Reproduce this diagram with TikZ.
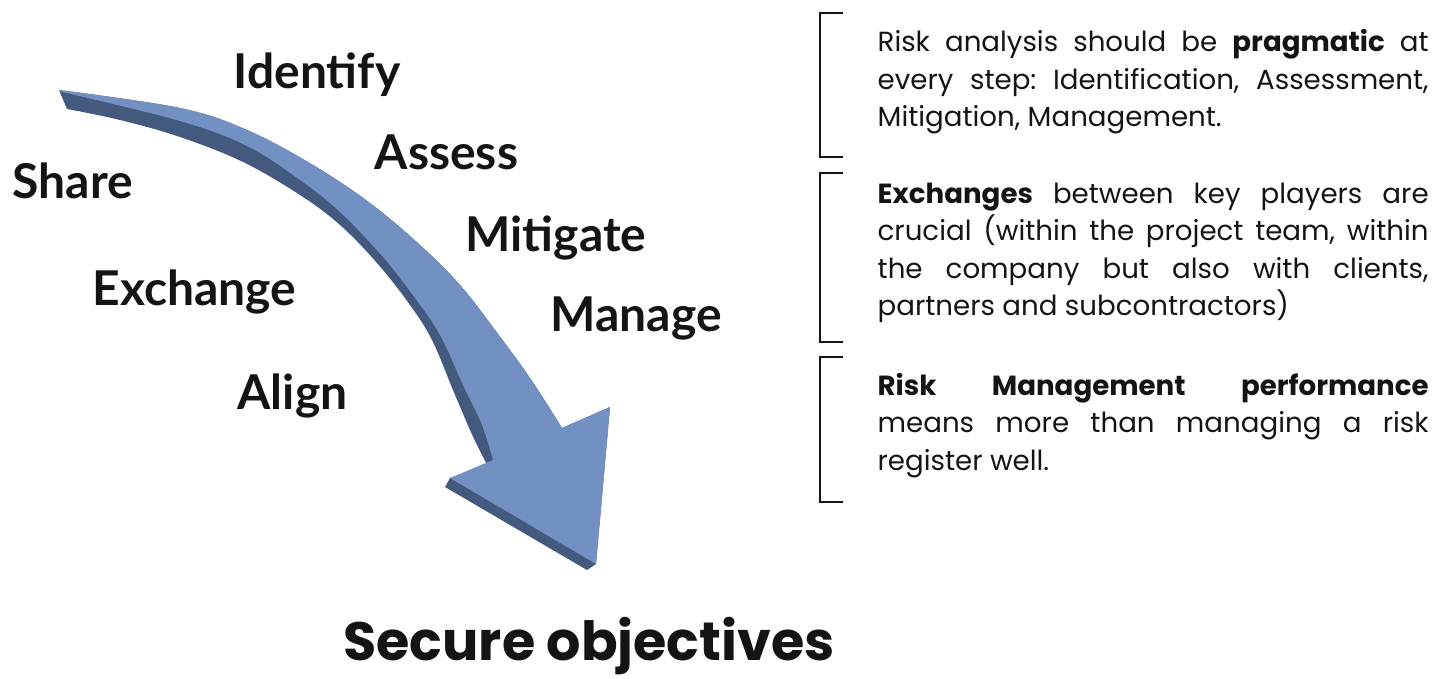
\documentclass[tikz,border=0pt]{standalone}
\usepackage{fontspec}
\setmainfont{Lato}
\newfontfamily\notefont{Poppins}
\usepackage{xcolor}
\definecolor{arrowblue}{RGB}{114, 145, 194}
\definecolor{arrowshade}{RGB}{68, 89, 126}
\definecolor{inkblack}{RGB}{20, 20, 20}
\frenchspacing

\begin{document}
\begin{tikzpicture}[x=0.3pt, y=-0.3pt,
    steplabel/.style={anchor=base west, inner sep=0pt, text=inkblack,
      font=\fontsize{14.4pt}{16pt}\selectfont\bfseries},
    para/.style={anchor=base west, inner sep=0pt, text=inkblack, text width=165.3pt,
      align=justify, font=\notefont\fontsize{8.3pt}{11.25pt}\selectfont},
    bracket/.style={line width=0.6pt, inkblack}]
  \useasboundingbox (0,0) rectangle (1448,679);

  % side face of the arrow
  \fill[arrowshade]
    plot[smooth, tension=0.6] coordinates {(59,90) (180,108) (247,130) (313,165) (370,203) (420,245) (460,285) (495,330) (530,378) (562,428)}
    -- (610,407) -- (596,564) -- (587,570) -- (445,487) -- (450,478)
    -- plot[smooth, tension=0.6] coordinates {(488,466) (482,455) (470,430) (453,390) (432,340) (410,305) (377,263) (340,225) (300,195) (243,162) (180,137) (120,120) (67,109)}
    -- cycle;

  % top face of the arrow
  \fill[arrowblue]
    plot[smooth, tension=0.6] coordinates {(59,90) (180,108) (247,130) (313,165) (370,203) (420,245) (460,285) (495,330) (530,378) (562,428)}
    -- (610,407) -- (596,564) -- (450,478)
    -- plot[smooth, tension=0.6] coordinates {(493,460) (482,425) (463,385) (440,335) (415,298) (383,257) (340,212) (300,180) (247,146) (180,121) (62,92)}
    -- cycle;

  % steps along the arrow
  \node[steplabel] (identify) at (233,89) {Identify};
  \node[steplabel] (assess) at (374,169) {Assess};
  \node[steplabel] (mitigate) at (465,252) {Mitigate};
  \node[steplabel] (manage) at (550,331) {Manage};
  \node[steplabel] (share) at (12,199) {Share};
  \node[steplabel] (exchange) at (92,305) {Exchange};
  \node[steplabel] (align) at (237,409) {Align};

  % goal
  \node[anchor=base, inner sep=0pt, text=inkblack, font=\notefont\fontsize{16.2pt}{19pt}\selectfont\bfseries]
    (objectives) at (589,660) {Secure objectives};

  % brackets
  \foreach \top/\bot in {13/157, 173/342, 357/502} {
    \draw[bracket] (843,\top) -- (820,\top) -- (820,\bot) -- (843,\bot);
  }

  % notes, lines broken by hand and stretched to full width
  \node[para] (pragmatic) at (877,52) {%
    Risk analysis should be \textbf{pragmatic} at\linebreak
    every step: Identification, Assessment,\linebreak
    Mitigation, Management.};
  \node[para] (exchanges) at (877,203) {%
    \textbf{Exchanges} between key players are\linebreak
    crucial (within the project team, within\linebreak
    the company but also with clients,\linebreak
    partners and subcontractors)};
  \node[para] (performance) at (877,395) {%
    \textbf{Risk Management performance}\linebreak
    means more than managing a risk\linebreak
    register well.};
\end{tikzpicture}
\end{document}
